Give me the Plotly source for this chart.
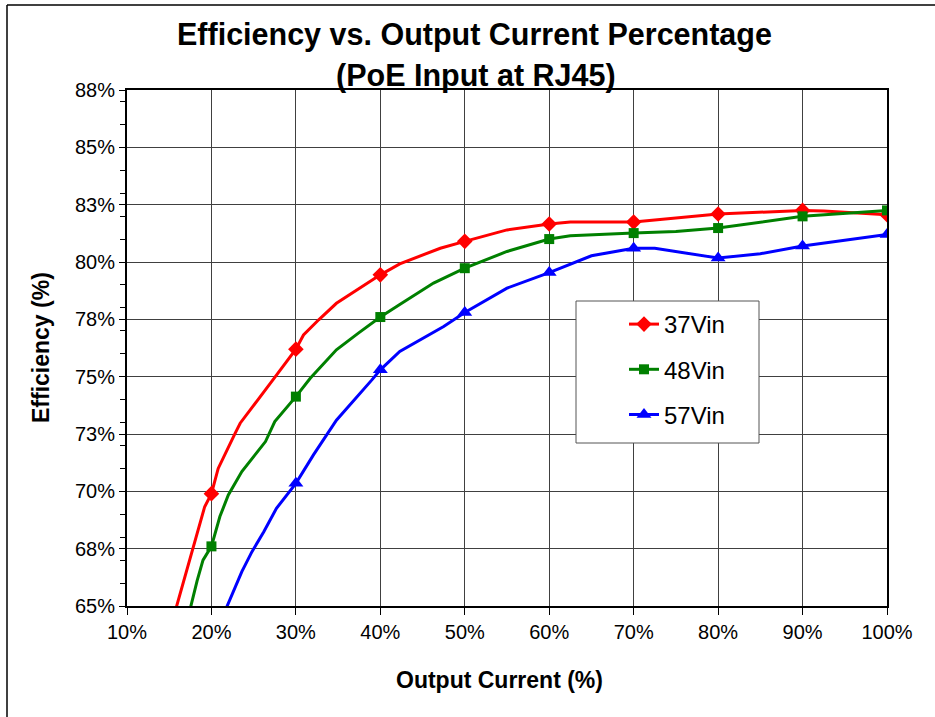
import plotly.graph_objects as go

# ---- data ----
x_37 = [15.5, 17.3, 18.6, 19.2, 20, 20.8, 22.8, 23.4, 27.3, 30, 30.9, 32.7, 34.8, 37.2, 40,
        42.3, 47.1, 50, 55, 60, 62.5, 70, 80, 90, 92.5, 100]
y_37 = [64.5, 66.86, 68.46, 69.33, 69.9, 71.0, 72.53, 72.97, 74.87, 76.2, 76.82, 77.48, 78.2, 78.79, 79.44,
        79.92, 80.6, 80.9, 81.4, 81.66, 81.74, 81.74, 82.09, 82.25, 82.22, 82.06]

x_48 = [17.3, 18.3, 19.0, 20, 21, 22, 23.6, 25, 26.4, 27.5, 30, 31.7, 34.8, 37.4, 40,
        42.3, 46.3, 50, 55, 60, 62.5, 70, 75, 80, 90, 100]
y_48 = [64.6, 66.1, 67.0, 67.6, 68.9, 69.84, 70.86, 71.5, 72.17, 73.04, 74.13, 74.93, 76.17, 76.9, 77.6,
        78.15, 79.08, 79.73, 80.46, 81.0, 81.14, 81.26, 81.33, 81.48, 81.99, 82.25]

x_57 = [21.4, 23.6, 24.8, 26.2, 27.7, 30, 32.1, 34.8, 39, 40, 42.3, 47.5, 50, 55, 60,
        65, 70, 72.5, 80, 85, 90, 100]
y_57 = [64.6, 66.5, 67.37, 68.24, 69.26, 70.35, 71.6, 73.1, 74.86, 75.3, 76.1, 77.19, 77.8, 78.86, 79.54,
        80.27, 80.6, 80.6, 80.17, 80.36, 80.7, 81.2]

marker_x = [20, 30, 40, 50, 60, 70, 80, 90, 100]

series_names = ["37Vin", "48Vin", "57Vin"]
series_colors = ["#FF0000", "#008000", "#0000FF"]
series_symbols = ["diamond", "square", "triangle-up"]
series_msize = [12, 10, 13]

y_tickvals = [65, 67.5, 70, 72.5, 75, 77.5, 80, 82.5, 85, 87.5]
y_ticktext = ["65%", "68%", "70%", "73%", "75%", "78%", "80%", "83%", "85%", "88%"]
x_tickvals = [10, 20, 30, 40, 50, 60, 70, 80, 90, 100]
x_ticktext = ["10%", "20%", "30%", "40%", "50%", "60%", "70%", "80%", "90%", "100%"]

FONT = "Arial, Liberation Sans, sans-serif"

fig = go.Figure()
series = [(x_37, y_37), (x_48, y_48), (x_57, y_57)]
for (xs, ys), name, col, sym, ms in zip(series, series_names, series_colors, series_symbols, series_msize):
    lookup = dict(zip(xs, ys))
    mx = [v for v in marker_x if v in lookup]
    my = [lookup[v] for v in mx]
    fig.add_trace(go.Scatter(x=xs, y=ys, mode="lines", line=dict(color=col, width=3),
                             showlegend=False, legendgroup=name, hoverinfo="skip"))
    fig.add_trace(go.Scatter(x=mx, y=my, mode="markers",
                             marker=dict(symbol=sym, size=ms, color=col, line=dict(width=0)),
                             showlegend=False, legendgroup=name, name=name))
    fig.add_trace(go.Scatter(x=[None], y=[None], mode="lines+markers", name=name,
                             line=dict(color=col, width=3),
                             marker=dict(symbol=sym, size=ms, color=col),
                             legendgroup=name, showlegend=True))

L, R, T, B = 127, 48, 90, 111
W, H = 935, 717
pw, ph = W - L - R, H - T - B

def px(x):
    return (x - L) / pw

def py(y):
    return (H - B - y) / ph

fig.update_layout(
    width=W, height=H,
    margin=dict(l=L, r=R, t=T, b=B, pad=0),
    paper_bgcolor="white", plot_bgcolor="white",
    font=dict(family=FONT, color="black", size=20),
    showlegend=True,
    legend=dict(x=px(624), y=py(302), xanchor="left", yanchor="top",
                bgcolor="rgba(0,0,0,0)", borderwidth=0,
                font=dict(family=FONT, size=24, color="black"),
                tracegroupgap=11),
    xaxis=dict(range=[10, 100], tickmode="array", tickvals=x_tickvals, ticktext=x_ticktext,
               showgrid=True, gridcolor="#404040", gridwidth=1,
               showline=True, linecolor="black", linewidth=2, mirror=True,
               ticks="outside", ticklen=7, tickcolor="black", tickwidth=1,
               tickfont=dict(size=20), zeroline=False),
    yaxis=dict(range=[65, 87.5], tickmode="array", tickvals=y_tickvals, ticktext=y_ticktext,
               showgrid=True, gridcolor="#404040", gridwidth=1,
               showline=True, linecolor="black", linewidth=2, mirror=True,
               ticks="outside", ticklen=6, tickcolor="black", tickwidth=1,
               tickfont=dict(size=20), zeroline=False,
               minor=dict(tickmode="linear", tick0=65, dtick=1, ticks="outside", ticklen=5,
                          tickcolor="black", tickwidth=1, showgrid=False)),
    shapes=[
        dict(type="rect", xref="paper", yref="paper", x0=px(576), x1=px(759), y0=py(443), y1=py(301),
             line=dict(color="#555555", width=1), fillcolor="white", layer="above"),
        dict(type="line", xref="paper", yref="paper", x0=px(7), x1=px(940), y0=py(5), y1=py(5),
             line=dict(color="black", width=1.5)),
        dict(type="line", xref="paper", yref="paper", x0=px(7), x1=px(7), y0=py(5), y1=py(720),
             line=dict(color="black", width=1.5)),
    ],
    annotations=[
        dict(text="<b>Efficiency vs. Output Current Percentage</b>", xref="paper", yref="paper",
             x=px(474), y=py(34), xanchor="center", yanchor="middle", showarrow=False,
             font=dict(family=FONT, size=30.5, color="black")),
        dict(text="<b>(PoE Input at RJ45)</b>", xref="paper", yref="paper",
             x=px(476), y=py(76), xanchor="center", yanchor="middle", showarrow=False,
             font=dict(family=FONT, size=30.5, color="black")),
        dict(text="<b>Output Current (%)</b>", xref="paper", yref="paper",
             x=px(499), y=py(680), xanchor="center", yanchor="middle", showarrow=False,
             font=dict(family=FONT, size=23, color="black")),
        dict(text="<b>Efficiency (%)</b>", xref="paper", yref="paper", textangle=-90,
             x=px(41), y=py(348), xanchor="center", yanchor="middle", showarrow=False,
             font=dict(family=FONT, size=23, color="black")),
    ],
)

fig.write_html("out.html", config={"displayModeBar": False},
               post_script="document.body.style.margin='0px';")
